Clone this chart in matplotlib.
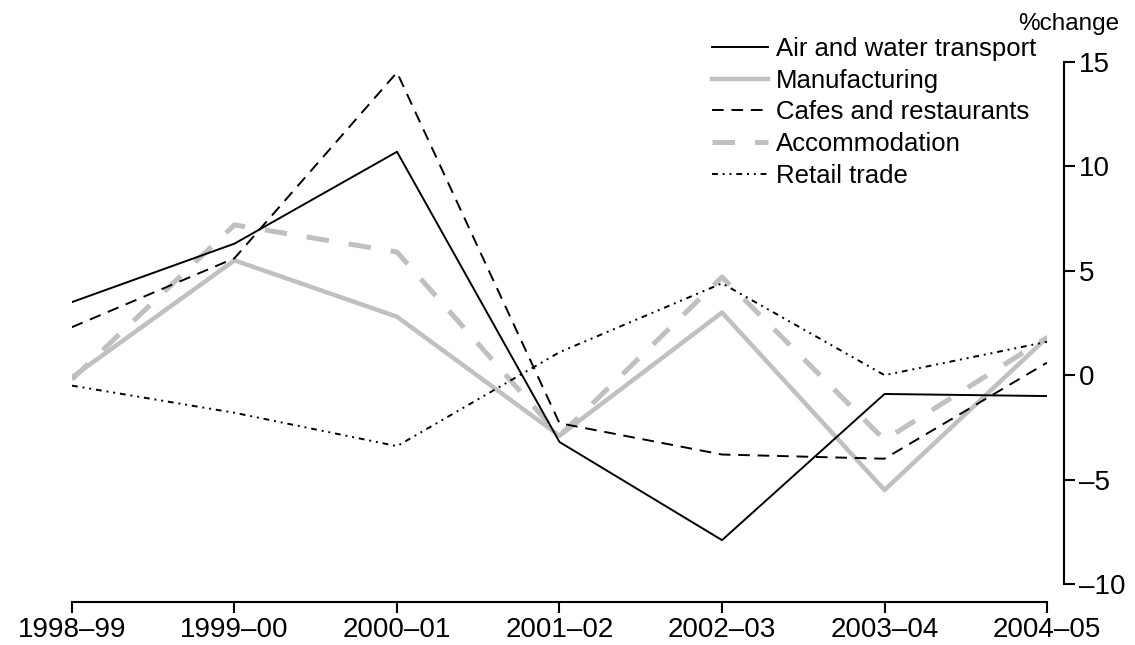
import matplotlib
matplotlib.use("Agg")
import matplotlib.pyplot as plt

years = ["1998–99", "1999–00", "2000–01", "2001–02", "2002–03", "2003–04", "2004–05"]

air_water = [3.5, 6.3, 10.7, -3.2, -7.9, -0.9, -1.0]
manufacturing = [-0.1, 5.5, 2.8, -2.9, 3.0, -5.5, 1.8]
cafes = [2.3, 5.6, 14.5, -2.3, -3.8, -4.0, 0.6]
accommodation = [-0.2, 7.2, 5.9, -2.9, 4.7, -3.1, 1.8]
retail = [-0.5, -1.8, -3.4, 1.1, 4.4, 0.0, 1.6]

plt.rcParams["font.family"] = ["Liberation Sans", "DejaVu Sans"]

grey = "#c0c0c0"
x = range(len(years))

fig = plt.figure(figsize=(11.35, 6.45), dpi=100)
ax = fig.add_axes([0.0634, 0.0946, 0.8591, 0.8093])

ax.plot(x, manufacturing, color=grey, lw=3.2, label="Manufacturing", zorder=2)
ax.plot(x, accommodation, color=grey, lw=3.6, dashes=(4.5, 4), label="Accommodation", zorder=2)
ax.plot(x, air_water, color="black", lw=1.4, label="Air and water transport", zorder=3)
ax.plot(x, cafes, color="black", lw=1.4, dashes=(6, 4), label="Cafes and restaurants", zorder=3)
ax.plot(x, retail, color="black", lw=1.4, dashes=(3, 2.5, 1, 2.5, 1, 2.5), label="Retail trade", zorder=3)

ax.set_xlim(0, 6)
ax.set_ylim(-10, 15)

ax.spines["top"].set_visible(False)
ax.spines["left"].set_visible(False)
ax.spines["right"].set_position(("outward", 12))
ax.spines["bottom"].set_position(("outward", 13))
ax.spines["right"].set_linewidth(1.5)
ax.spines["bottom"].set_linewidth(1.5)
ax.spines["right"].set_bounds(-10, 15)
ax.spines["bottom"].set_bounds(0, 6)

ax.yaxis.tick_right()
ax.set_yticks([-10, -5, 0, 5, 10, 15])
ax.set_yticklabels(["–10", "–5", "0", "5", "10", "15"])
ax.set_xticks(list(x))
ax.set_xticklabels(years)
ax.tick_params(axis="both", direction="out", length=8, width=1.5, labelsize=20, pad=3)

ax.text(1.074, 1.073, "%change", transform=ax.transAxes, ha="right", va="center", fontsize=17.5)

handles, labels = ax.get_legend_handles_labels()
order = [2, 0, 3, 1, 4]
ax.legend([handles[i] for i in order], [labels[i] for i in order],
          loc="upper left", bbox_to_anchor=(0.656, 1.048), frameon=False,
          fontsize=18.5, handlelength=2.2, handletextpad=0.3, labelspacing=0.3,
          borderaxespad=0, borderpad=0)

fig.savefig("out.png", dpi=100)
